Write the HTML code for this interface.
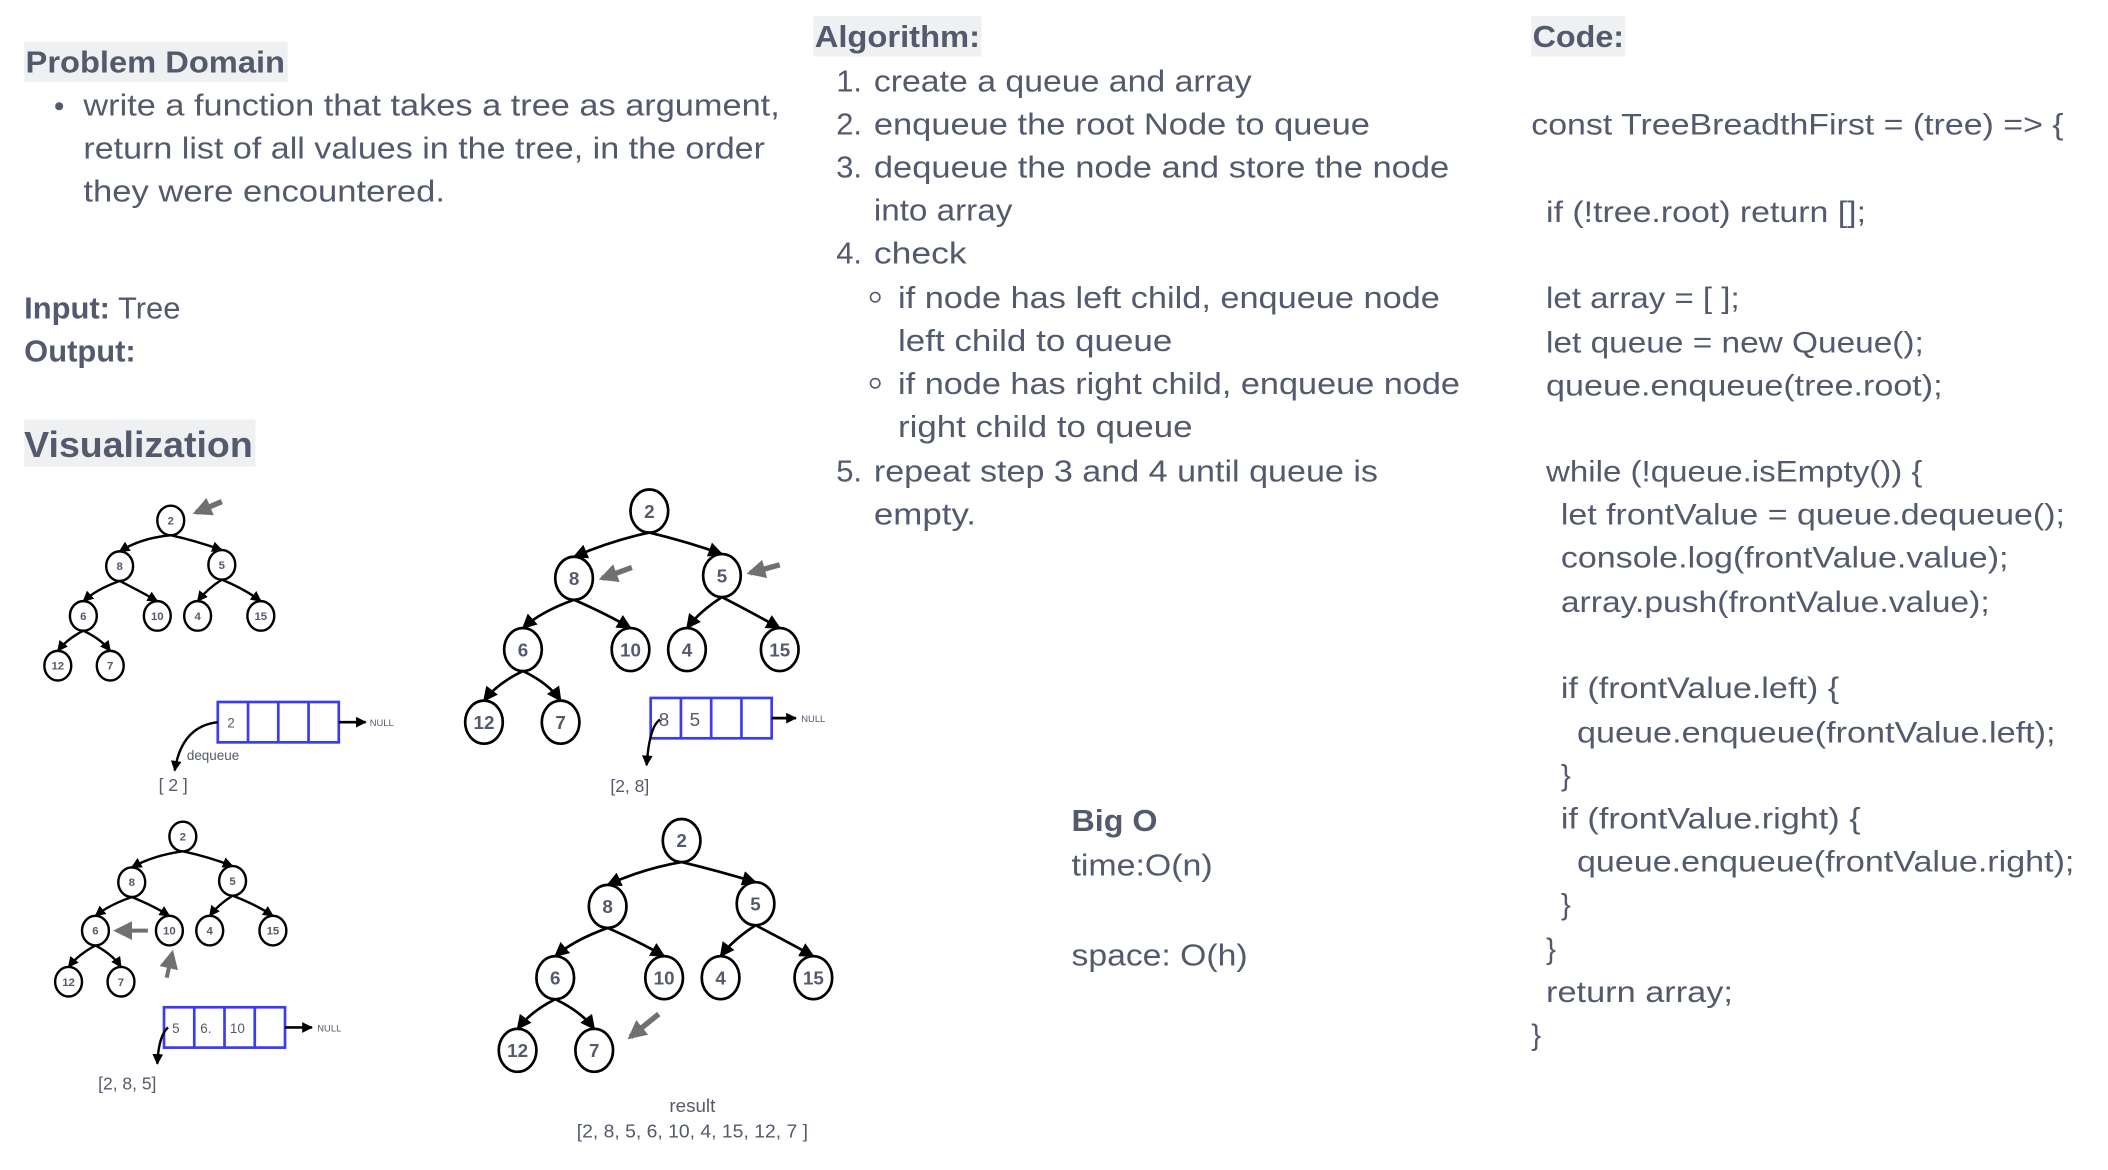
<!DOCTYPE html>
<html><head><meta charset="utf-8"><style>
html,body{margin:0;padding:0;background:#fff;width:2108px;height:1170px;overflow:hidden}
svg{display:block}
text{font-family:"Liberation Sans",Arial,sans-serif;fill:#545a6e}
.b{font-weight:bold}
.n1{font-size:8.5px;font-weight:bold;text-anchor:middle}
.n2{font-size:14px;font-weight:bold;text-anchor:middle}
.c{font-size:22px}
</style></head><body>
<svg width="2108" height="1170" viewBox="0 0 1568 870" preserveAspectRatio="none" xmlns="http://www.w3.org/2000/svg">
<defs>
<marker id="a1" viewBox="0 0 10 10" refX="9" refY="5" markerWidth="8" markerHeight="8" markerUnits="userSpaceOnUse" orient="auto"><path d="M0,0 L10,5 L0,10z" fill="#000"/></marker>
<marker id="a2" viewBox="0 0 10 10" refX="9" refY="5" markerWidth="11" markerHeight="11" markerUnits="userSpaceOnUse" orient="auto"><path d="M0,0 L10,5 L0,10z" fill="#000"/></marker>
<marker id="ag" viewBox="0 0 10 10" refX="8" refY="5" markerWidth="14" markerHeight="14" markerUnits="userSpaceOnUse" orient="auto"><path d="M0,0 L10,5 L0,10z" fill="#707070"/></marker>
</defs>

<!-- Left column -->
<rect x="18" y="31" width="196" height="30" fill="#eef0f2"/>
<text x="19" y="54" class="b" font-size="23" textLength="193" lengthAdjust="spacingAndGlyphs">Problem Domain</text>
<circle cx="44" cy="79" r="3" fill="#545a6e"/>
<text x="62" y="86" font-size="23" textLength="518" lengthAdjust="spacingAndGlyphs">write a function that takes a tree as argument,</text>
<text x="62" y="118" font-size="23" textLength="507" lengthAdjust="spacingAndGlyphs">return list of all values in the tree, in the order</text>
<text x="62" y="150" font-size="23" textLength="269" lengthAdjust="spacingAndGlyphs">they were encountered.</text>
<text x="18" y="237" font-size="23"><tspan class="b">Input:</tspan> Tree</text>
<text x="18" y="269" font-size="23" class="b">Output:</text>
<rect x="18" y="312" width="172" height="35" fill="#eef0f2"/>
<text x="18" y="340" class="b" font-size="27" textLength="170" lengthAdjust="spacingAndGlyphs">Visualization</text>

<!-- Algorithm -->
<rect x="605" y="12" width="125" height="30" fill="#eef0f2"/>
<text x="606" y="35" class="b" font-size="23" textLength="123" lengthAdjust="spacingAndGlyphs">Algorithm:</text>
<g font-size="23">
<text x="622" y="68">1.</text><text x="650" y="68" textLength="281" lengthAdjust="spacingAndGlyphs">create a queue and array</text>
<text x="622" y="100">2.</text><text x="650" y="100" textLength="369" lengthAdjust="spacingAndGlyphs">enqueue the root Node to queue</text>
<text x="622" y="132">3.</text><text x="650" y="132" textLength="428" lengthAdjust="spacingAndGlyphs">dequeue the node and store the node</text>
<text x="650" y="164" textLength="103" lengthAdjust="spacingAndGlyphs">into array</text>
<text x="622" y="196">4.</text><text x="650" y="196" textLength="69" lengthAdjust="spacingAndGlyphs">check</text>
<circle cx="651" cy="221" r="3.5" fill="none" stroke="#545a6e" stroke-width="1.2"/>
<text x="668" y="229" textLength="403" lengthAdjust="spacingAndGlyphs">if node has left child, enqueue node</text>
<text x="668" y="261" textLength="204" lengthAdjust="spacingAndGlyphs">left child to queue</text>
<circle cx="651" cy="285" r="3.5" fill="none" stroke="#545a6e" stroke-width="1.2"/>
<text x="668" y="293" textLength="418" lengthAdjust="spacingAndGlyphs">if node has right child, enqueue node</text>
<text x="668" y="325" textLength="219" lengthAdjust="spacingAndGlyphs">right child to queue</text>
<text x="622" y="358">5.</text><text x="650" y="358" textLength="375" lengthAdjust="spacingAndGlyphs">repeat step 3 and 4 until queue is</text>
<text x="650" y="390" textLength="76" lengthAdjust="spacingAndGlyphs">empty.</text>
</g>

<!-- Big O -->
<text x="797" y="618" class="b" font-size="23" textLength="64" lengthAdjust="spacingAndGlyphs">Big O</text>
<text x="797" y="651" font-size="23" textLength="105" lengthAdjust="spacingAndGlyphs">time:O(n)</text>
<text x="797" y="718" font-size="23" textLength="131" lengthAdjust="spacingAndGlyphs">space: O(h)</text>

<!-- Code -->
<rect x="1139" y="12" width="70" height="30" fill="#eef0f2"/>
<text x="1140" y="35" class="b" font-size="23" textLength="68" lengthAdjust="spacingAndGlyphs">Code:</text>
<g class="c">
<text x="1139" y="100" class="c" textLength="396" lengthAdjust="spacingAndGlyphs">const TreeBreadthFirst = (tree) =&gt; {</text>
<text x="1150" y="165" class="c" textLength="238" lengthAdjust="spacingAndGlyphs">if (!tree.root) return [];</text>
<text x="1150" y="229" class="c" textLength="144" lengthAdjust="spacingAndGlyphs">let array = [ ];</text>
<text x="1150" y="262" class="c" textLength="281" lengthAdjust="spacingAndGlyphs">let queue = new Queue();</text>
<text x="1150" y="294" class="c" textLength="295" lengthAdjust="spacingAndGlyphs">queue.enqueue(tree.root);</text>
<text x="1150" y="358" class="c" textLength="280" lengthAdjust="spacingAndGlyphs">while (!queue.isEmpty()) {</text>
<text x="1161" y="390" class="c" textLength="375" lengthAdjust="spacingAndGlyphs">let frontValue = queue.dequeue();</text>
<text x="1161" y="422" class="c" textLength="333" lengthAdjust="spacingAndGlyphs">console.log(frontValue.value);</text>
<text x="1161" y="455" class="c" textLength="319" lengthAdjust="spacingAndGlyphs">array.push(frontValue.value);</text>
<text x="1161" y="519" class="c" textLength="207" lengthAdjust="spacingAndGlyphs">if (frontValue.left) {</text>
<text x="1173" y="552" class="c" textLength="356" lengthAdjust="spacingAndGlyphs">queue.enqueue(frontValue.left);</text>
<text x="1161" y="584" class="c">}</text>
<text x="1161" y="616" class="c" textLength="223" lengthAdjust="spacingAndGlyphs">if (frontValue.right) {</text>
<text x="1173" y="648" class="c" textLength="370" lengthAdjust="spacingAndGlyphs">queue.enqueue(frontValue.right);</text>
<text x="1161" y="680" class="c">}</text>
<text x="1150" y="713" class="c">}</text>
<text x="1150" y="745" class="c" textLength="139" lengthAdjust="spacingAndGlyphs">return array;</text>
<text x="1139" y="777" class="c">}</text>
</g>

<!-- Tree 1 (small) -->
<g stroke="#000" stroke-width="1.8" fill="none">
<path d="M127,398 Q105,400 89,410" marker-end="url(#a1)"/>
<path d="M127,398 Q145,402 165,409" marker-end="url(#a1)"/>
<path d="M89,432 Q72,438 62,447" marker-end="url(#a1)"/>
<path d="M89,432 Q105,440 117,447" marker-end="url(#a1)"/>
<path d="M165,431 Q154,438 147,447" marker-end="url(#a1)"/>
<path d="M165,431 Q182,438 194,447" marker-end="url(#a1)"/>
<path d="M62,469 Q50,475 43,484" marker-end="url(#a1)"/>
<path d="M62,469 Q75,475 82,484" marker-end="url(#a1)"/>
</g>
<g stroke="#000" stroke-width="1.8" fill="#fff">
<ellipse cx="127" cy="387" rx="10" ry="11"/><ellipse cx="89" cy="421" rx="10" ry="11"/><ellipse cx="165" cy="420" rx="10" ry="11"/>
<ellipse cx="62" cy="458" rx="10" ry="11"/><ellipse cx="117" cy="458" rx="10" ry="11"/><ellipse cx="147" cy="458" rx="10" ry="11"/><ellipse cx="194" cy="458" rx="10" ry="11"/>
<ellipse cx="43" cy="495" rx="10" ry="11"/><ellipse cx="82" cy="495" rx="10" ry="11"/>
</g>
<text class="n1" x="127" y="390">2</text><text class="n1" x="89" y="424">8</text><text class="n1" x="165" y="423">5</text>
<text class="n1" x="62" y="461">6</text><text class="n1" x="117" y="461">10</text><text class="n1" x="147" y="461">4</text><text class="n1" x="194" y="461">15</text>
<text class="n1" x="43" y="498">12</text><text class="n1" x="82" y="498">7</text>
<path d="M165,373 L146,381" stroke="#707070" stroke-width="4" marker-end="url(#ag)"/>

<!-- Queue 1 -->
<g stroke="#3b3bf0" stroke-width="2" fill="#fff">
<rect x="162" y="522" width="90" height="30"/><line x1="184.5" y1="522" x2="184.5" y2="552"/><line x1="207" y1="522" x2="207" y2="552"/><line x1="229.5" y1="522" x2="229.5" y2="552"/>
</g>
<text x="169" y="541" font-size="10">2</text>
<path d="M252,537 L272,537" stroke="#000" stroke-width="2" marker-end="url(#a1)"/>
<text x="275" y="540" font-size="7">NULL</text>
<path d="M162,537 Q135,540 130,573" stroke="#000" stroke-width="1.8" fill="none" marker-end="url(#a1)"/>
<text x="139" y="565" font-size="10">dequeue</text>
<text x="118" y="588" font-size="13">[ 2 ]</text>

<!-- Tree 2 (large) -->
<g stroke="#000" stroke-width="2" fill="none">
<path d="M483,396 Q455,402 427,414" marker-end="url(#a2)"/>
<path d="M483,396 Q512,403 537,412" marker-end="url(#a2)"/>
<path d="M427,446 Q402,455 389,467" marker-end="url(#a2)"/>
<path d="M427,446 Q452,457 469,467" marker-end="url(#a2)"/>
<path d="M537,444 Q520,455 511,467" marker-end="url(#a2)"/>
<path d="M537,444 Q562,457 580,467" marker-end="url(#a2)"/>
<path d="M389,499 Q370,508 360,521" marker-end="url(#a2)"/>
<path d="M389,499 Q408,508 417,521" marker-end="url(#a2)"/>
</g>
<g stroke="#000" stroke-width="2" fill="#fff">
<ellipse cx="483" cy="380" rx="14" ry="16"/><ellipse cx="427" cy="430" rx="14" ry="16"/><ellipse cx="537" cy="428" rx="14" ry="16"/>
<ellipse cx="389" cy="483" rx="14" ry="16"/><ellipse cx="469" cy="483" rx="14" ry="16"/><ellipse cx="511" cy="483" rx="14" ry="16"/><ellipse cx="580" cy="483" rx="14" ry="16"/>
<ellipse cx="360" cy="537" rx="14" ry="16"/><ellipse cx="417" cy="537" rx="14" ry="16"/>
</g>
<text class="n2" x="483" y="385">2</text><text class="n2" x="427" y="435">8</text><text class="n2" x="537" y="433">5</text>
<text class="n2" x="389" y="488">6</text><text class="n2" x="469" y="488">10</text><text class="n2" x="511" y="488">4</text><text class="n2" x="580" y="488">15</text>
<text class="n2" x="360" y="542">12</text><text class="n2" x="417" y="542">7</text>
<path d="M470,422 L448,430" stroke="#707070" stroke-width="4" marker-end="url(#ag)"/>
<path d="M580,420 L558,426" stroke="#707070" stroke-width="4" marker-end="url(#ag)"/>

<!-- Queue 2 -->
<g stroke="#3b3bf0" stroke-width="2" fill="#fff">
<rect x="484" y="519" width="90" height="30"/><line x1="506.5" y1="519" x2="506.5" y2="549"/><line x1="529" y1="519" x2="529" y2="549"/><line x1="551.5" y1="519" x2="551.5" y2="549"/>
</g>
<text x="490" y="540" font-size="14">8</text><text x="513" y="540" font-size="14">5</text>
<path d="M574,534 L592,534" stroke="#000" stroke-width="2" marker-end="url(#a1)"/>
<text x="596" y="537" font-size="7">NULL</text>
<path d="M491,535 Q483,540 481,569" stroke="#000" stroke-width="1.8" fill="none" marker-end="url(#a1)"/>
<text x="454" y="589" font-size="13">[2, 8]</text>

<!-- Tree 3 (small) -->
<g stroke="#000" stroke-width="1.8" fill="none">
<path d="M136,633 Q114,636 98,645" marker-end="url(#a1)"/>
<path d="M136,633 Q155,637 173,644" marker-end="url(#a1)"/>
<path d="M98,667 Q81,673 71,681" marker-end="url(#a1)"/>
<path d="M98,667 Q115,674 126,681" marker-end="url(#a1)"/>
<path d="M173,666 Q162,673 156,681" marker-end="url(#a1)"/>
<path d="M173,666 Q191,673 203,681" marker-end="url(#a1)"/>
<path d="M71,703 Q58,710 51,719" marker-end="url(#a1)"/>
<path d="M71,703 Q84,710 90,719" marker-end="url(#a1)"/>
</g>
<g stroke="#000" stroke-width="1.8" fill="#fff">
<ellipse cx="136" cy="622" rx="10" ry="11"/><ellipse cx="98" cy="656" rx="10" ry="11"/><ellipse cx="173" cy="655" rx="10" ry="11"/>
<ellipse cx="71" cy="692" rx="10" ry="11"/><ellipse cx="126" cy="692" rx="10" ry="11"/><ellipse cx="156" cy="692" rx="10" ry="11"/><ellipse cx="203" cy="692" rx="10" ry="11"/>
<ellipse cx="51" cy="730" rx="10" ry="11"/><ellipse cx="90" cy="730" rx="10" ry="11"/>
</g>
<text class="n1" x="136" y="625">2</text><text class="n1" x="98" y="659">8</text><text class="n1" x="173" y="658">5</text>
<text class="n1" x="71" y="695">6</text><text class="n1" x="126" y="695">10</text><text class="n1" x="156" y="695">4</text><text class="n1" x="203" y="695">15</text>
<text class="n1" x="51" y="733">12</text><text class="n1" x="90" y="733">7</text>
<path d="M110,692 L87,692" stroke="#707070" stroke-width="3" marker-end="url(#ag)"/>
<path d="M124,727 L128,709" stroke="#707070" stroke-width="3" marker-end="url(#ag)"/>

<!-- Queue 3 -->
<g stroke="#3b3bf0" stroke-width="2" fill="#fff">
<rect x="122" y="749" width="90" height="30"/><line x1="144.5" y1="749" x2="144.5" y2="779"/><line x1="167" y1="749" x2="167" y2="779"/><line x1="189.5" y1="749" x2="189.5" y2="779"/>
</g>
<text x="128" y="768" font-size="10">5</text><text x="149" y="768" font-size="10">6.</text><text x="171" y="768" font-size="10">10</text>
<path d="M212,764 L232,764" stroke="#000" stroke-width="2" marker-end="url(#a1)"/>
<text x="236" y="767" font-size="7">NULL</text>
<path d="M125,764 Q118,770 117,791" stroke="#000" stroke-width="1.8" fill="none" marker-end="url(#a1)"/>
<text x="73" y="810" font-size="13">[2, 8, 5]</text>

<!-- Tree 4 (large) -->
<g stroke="#000" stroke-width="2" fill="none">
<path d="M507,641 Q478,646 452,658" marker-end="url(#a2)"/>
<path d="M507,641 Q536,648 562,656" marker-end="url(#a2)"/>
<path d="M452,690 Q427,699 413,711" marker-end="url(#a2)"/>
<path d="M452,690 Q477,701 494,711" marker-end="url(#a2)"/>
<path d="M562,688 Q545,699 536,711" marker-end="url(#a2)"/>
<path d="M562,688 Q587,701 605,711" marker-end="url(#a2)"/>
<path d="M413,743 Q395,752 385,765" marker-end="url(#a2)"/>
<path d="M413,743 Q432,752 442,765" marker-end="url(#a2)"/>
</g>
<g stroke="#000" stroke-width="2" fill="#fff">
<ellipse cx="507" cy="625" rx="14" ry="16"/><ellipse cx="452" cy="674" rx="14" ry="16"/><ellipse cx="562" cy="672" rx="14" ry="16"/>
<ellipse cx="413" cy="727" rx="14" ry="16"/><ellipse cx="494" cy="727" rx="14" ry="16"/><ellipse cx="536" cy="727" rx="14" ry="16"/><ellipse cx="605" cy="727" rx="14" ry="16"/>
<ellipse cx="385" cy="781" rx="14" ry="16"/><ellipse cx="442" cy="781" rx="14" ry="16"/>
</g>
<text class="n2" x="507" y="630">2</text><text class="n2" x="452" y="679">8</text><text class="n2" x="562" y="677">5</text>
<text class="n2" x="413" y="732">6</text><text class="n2" x="494" y="732">10</text><text class="n2" x="536" y="732">4</text><text class="n2" x="605" y="732">15</text>
<text class="n2" x="385" y="786">12</text><text class="n2" x="442" y="786">7</text>
<path d="M490,754 L469,771" stroke="#707070" stroke-width="4" marker-end="url(#ag)"/>
<text x="515" y="827" font-size="14" text-anchor="middle">result</text>
<text x="515" y="846" font-size="14" text-anchor="middle" textLength="172" lengthAdjust="spacingAndGlyphs">[2, 8, 5, 6, 10, 4, 15, 12, 7 ]</text>
</svg>
</body></html>
